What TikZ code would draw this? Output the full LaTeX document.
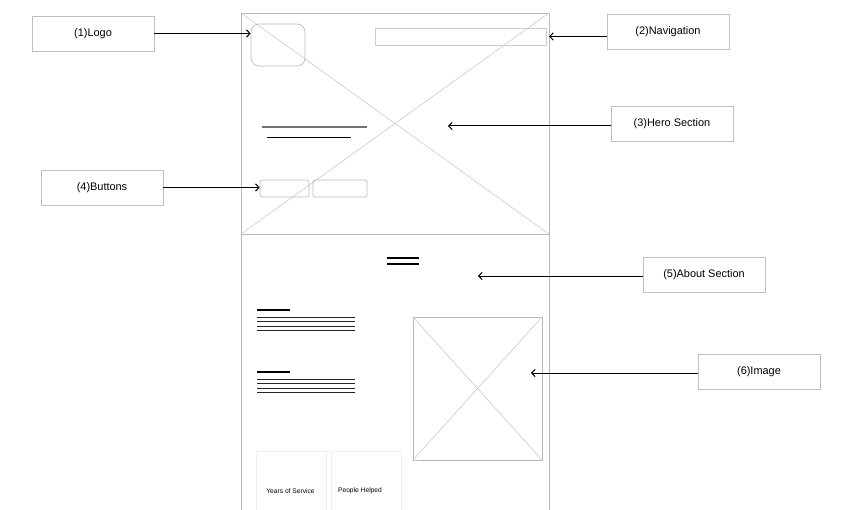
\documentclass[tikz,border=0pt]{standalone}
\usepackage{fontspec}
\setsansfont{Liberation Sans}
\usepackage{tikz}
\usetikzlibrary{arrows.meta,positioning}

\begin{document}
\begin{tikzpicture}[
    x=0.75pt, y=-0.75pt,
    callout/.style={rectangle, draw=gray!50, fill=white, line width=0.5pt,
                    minimum width=91.5pt, minimum height=26.25pt, inner sep=0pt,
                    font=\sffamily\fontsize{8.2}{10}\selectfont},
    frame/.style={rectangle, draw=gray!55, line width=0.5pt, inner sep=0pt},
    cross/.style={draw=gray!45, line width=0.4pt},
    boxel/.style={rectangle, draw=gray!55, line width=0.5pt, inner sep=0pt},
    card/.style={rectangle, draw=gray!12, line width=0.5pt, inner sep=0pt,
                 minimum width=52.5pt, minimum height=50pt},
    cardtxt/.style={font=\sffamily\fontsize{5}{6}\selectfont, inner sep=0pt},
    txtline/.style={line width=0.6pt, black!85},
    arr/.style={-{Straight Barb[length=2.6pt, width=5.5pt]}, line width=0.75pt}
  ]
    \useasboundingbox (0,0) rectangle (865,510);
    \clip (0,0) rectangle (865,510);

    %--- Wireframe: hero section ---
    \node[frame, minimum width=231pt, minimum height=165.75pt] (hero) at (395,123.5) {};
    \draw[cross] (hero.north west) -- (hero.south east);
    \draw[cross] (hero.north east) -- (hero.south west);
    \node[boxel, rounded corners=6pt, minimum width=40.5pt, minimum height=31.5pt] (logo) at (278,45) {};
    \node[boxel, draw=gray!40, line width=0.7pt, minimum width=128.25pt, minimum height=12.75pt] (navbar) at (460.5,36.5) {};
    \draw[line width=1.1pt, gray!90!black] (262,127) -- (367,127);
    \draw[line width=0.7pt, black] (267,137) -- (351,137);
    \node[boxel, rounded corners=1.5pt, minimum width=36.75pt, minimum height=12.75pt] (btnone) at (284.5,188.5) {};
    \node[boxel, rounded corners=1.5pt, minimum width=40.5pt, minimum height=12.75pt] (btntwo) at (340,188.5) {};
    \coordinate (heroin) at (448,126);

    %--- Wireframe: about section ---
    \node[frame, minimum width=231pt, minimum height=225pt] (about) at (395,384) {};
    \draw[line width=0.8pt] (387,258) -- (419,258);
    \draw[line width=0.8pt] (387,264) -- (419,264);
    \foreach \ytop in {310,372} {
      \draw[line width=0.9pt] (257,\ytop) -- (290,\ytop);
      \foreach \dy in {7,11.5,16,20.5}
        \draw[txtline] (257,\ytop+\dy) -- (355,\ytop+\dy);
    }
    \node[boxel, minimum width=96.75pt, minimum height=107.25pt] (img) at (477.5,388.5) {};
    \draw[cross] (img.north west) -- (img.south east);
    \draw[cross] (img.north east) -- (img.south west);
    \coordinate (aboutin) at (478,276);

    %--- Stat cards ---
    \node[card] (cardone) at (291,485) {};
    \node[card] (cardtwo) at (366.5,485) {};
    \node[cardtxt] (yrs) at (290.5,491) {Years of Service};
    \node[cardtxt] (ppl) at (360,491) {People Helped};

    %--- Callout labels ---
    \node[callout] (lbllogo)  at (93,33.5)   {(1)Logo};
    \node[callout] (lblnav)   at (668,31.5)  {(2)Navigation};
    \node[callout] (lblhero)  at (672,123.5) {(3)Hero Section};
    \node[callout] (lblbtn)   at (102,187.5) {(4)Buttons};
    \node[callout] (lblabout) at (704,274.5) {(5)About Section};
    \node[callout] (lblimg)   at (759,371.5) {(6)Image};

    %--- Arrows ---
    \draw[arr] (lbllogo.east)  -- (logo.west |- lbllogo.east);
    \draw[arr] (lblnav.west |- navbar.east) -- ([xshift=2pt]navbar.east);
    \draw[arr] (lblhero.west |- heroin) -- (heroin);
    \draw[arr] (lblbtn.east)   -- (btnone.west |- lblbtn.east);
    \draw[arr] (lblabout.west |- aboutin) -- (aboutin);
    \draw[arr] (lblimg.west |- 0,373) -- (531,373);
  \end{tikzpicture}
\end{document}
